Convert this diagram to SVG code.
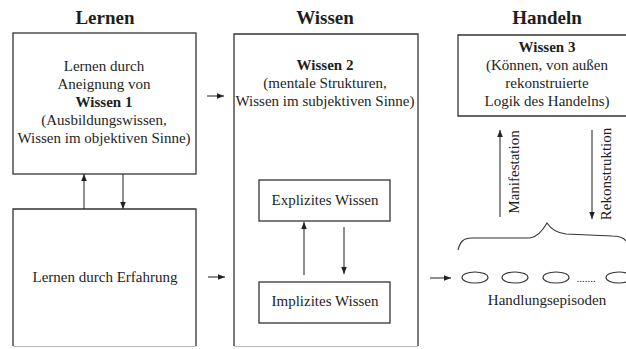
<svg xmlns="http://www.w3.org/2000/svg" width="626" height="349" viewBox="0 0 626 349">
<defs>
<marker id="ah" viewBox="0 0 10 10" refX="10" refY="5" markerWidth="7" markerHeight="7" markerUnits="userSpaceOnUse" orient="auto">
<path d="M0,1 L10,5 L0,9 Z" fill="#222"/>
</marker>
</defs>
<style>
text{font-family:"Liberation Serif","Times New Roman",serif;fill:#1e1e1e;text-anchor:middle}
.t{font-size:19px;font-weight:bold}
.b{font-size:15px}
.bb{font-size:15px;font-weight:bold}
.box{fill:none;stroke:#333;stroke-width:1.3}
.ln{fill:none;stroke:#333;stroke-width:1.1}
.arr{fill:none;stroke:#333;stroke-width:1.1;marker-end:url(#ah)}
</style>
<rect width="626" height="349" fill="#fff"/>

<g id="titles">
<text class="t" x="105" y="24">Lernen</text>
<text class="t" x="325" y="24">Wissen</text>
<text class="t" x="547" y="24">Handeln</text>
</g>

<g id="lernen1">
<rect class="box" x="13" y="33" width="183" height="141"/>
<text class="b" x="104" y="71">Lernen durch</text>
<text class="b" x="104" y="89">Aneignung von</text>
<text class="bb" x="104" y="107">Wissen 1</text>
<text class="b" x="104" y="125">(Ausbildungswissen,</text>
<text class="b" x="104" y="143">Wissen im objektiven Sinne)</text>
</g>

<g id="lernen2">
<path class="box" d="M13,346 L13,209 L196,209 L196,346"/>
<path d="M13,346.5 L196,346.5" stroke="#bbb" stroke-width="1" fill="none"/>
<text class="b" x="105" y="282">Lernen durch Erfahrung</text>
</g>

<g id="wissen">
<path class="box" d="M234,346 L234,34 L418,34 L418,346"/>
<path d="M234,346.5 L418,346.5" stroke="#bbb" stroke-width="1" fill="none"/>
<text class="bb" x="325" y="70">Wissen 2</text>
<text class="b" x="325" y="88">(mentale Strukturen,</text>
<text class="b" x="325" y="106">Wissen im subjektiven Sinne)</text>
</g>

<g id="explizit">
<rect class="box" x="259" y="180" width="131" height="41"/>
<text class="b" x="325" y="205">Explizites Wissen</text>
</g>

<g id="implizit">
<rect class="box" x="259" y="282" width="131" height="41"/>
<text class="b" x="325" y="306">Implizites Wissen</text>
</g>

<g id="wissen3">
<path class="box" d="M630,35 L458,35 L458,116 L630,116"/>
<text class="bb" x="547" y="52">Wissen 3</text>
<text class="b" x="547" y="70">(Können, von außen</text>
<text class="b" x="547" y="88">rekonstruierte</text>
<text class="b" x="547" y="106">Logik des Handelns)</text>
</g>

<g id="episoden">
<path class="ln" d="M458,250 C460,242 463,238 472,238 L530,238 C538,237 543,230 547,223 C551,229 556,233 566,234 L612,236 C620,236 624,238 626,241"/>
<ellipse class="ln" cx="475" cy="277.5" rx="13" ry="5.5"/>
<ellipse class="ln" cx="515" cy="277.5" rx="13" ry="5.5"/>
<ellipse class="ln" cx="556" cy="277.5" rx="13" ry="5.5"/>
<ellipse class="ln" cx="619" cy="277.5" rx="13" ry="5.5"/>
<text x="586" y="282" style="font-size:11px">.......</text>
<text class="b" x="547" y="305">Handlungsepisoden</text>
</g>

<g id="connectors">
<path class="arr" d="M84,209 L84,174"/>
<path class="arr" d="M123,174 L123,209"/>
<path class="arr" d="M207,96 L224,96"/>
<path class="arr" d="M208,277 L225,277"/>
<path class="arr" d="M304,275 L304,222"/>
<path class="arr" d="M344,227 L344,274"/>
<path class="arr" d="M430,278 L451,278"/>
<path class="arr" d="M500,217 L500,130"/>
<path class="arr" d="M592,130 L592,219"/>
</g>

<g id="labels">
<text class="b" transform="translate(519,172) rotate(-90)">Manifestation</text>
<text class="b" transform="translate(611,174) rotate(-90)">Rekonstruktion</text>
</g>
</svg>
